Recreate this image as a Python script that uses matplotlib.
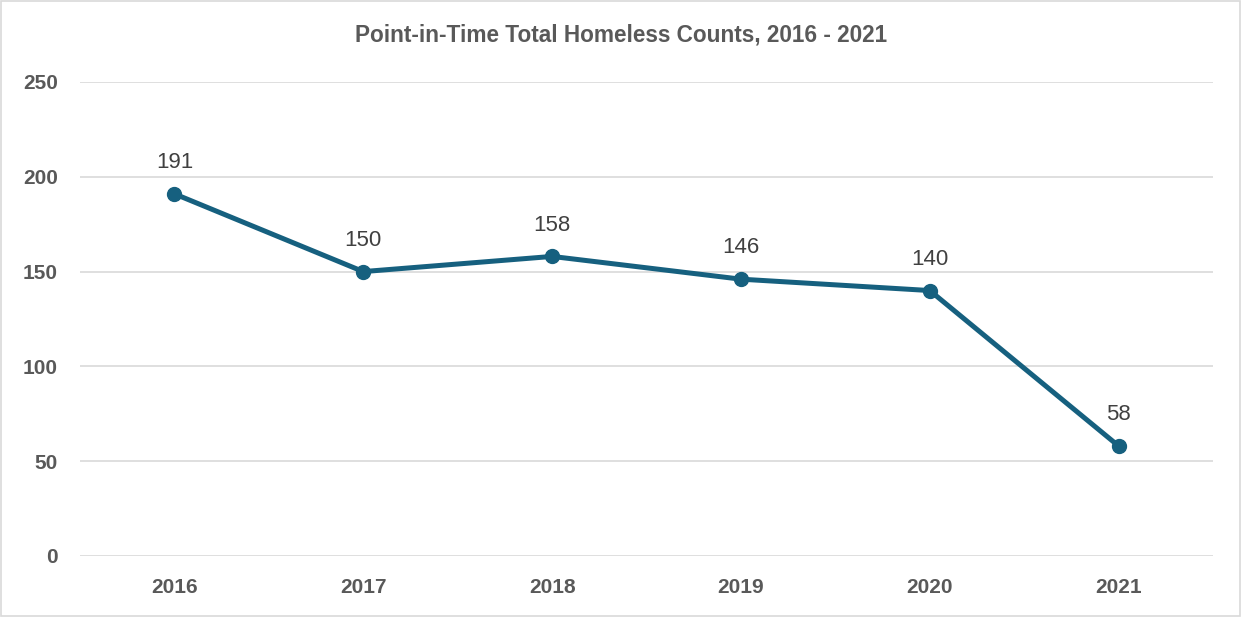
import matplotlib.pyplot as plt
from matplotlib.patches import Rectangle

# Daten
years = ['2016', '2017', '2018', '2019', '2020', '2021']
counts = [191, 150, 158, 146, 140, 58]
y_ticks = [0, 50, 100, 150, 200, 250]

line_color = '#16607f'
text_grey = '#595959'

plt.rcParams['font.family'] = ['Liberation Sans', 'DejaVu Sans']

fig = plt.figure(figsize=(12.42, 6.17), dpi=100)
ax = fig.add_axes([0.0644, 0.0989, 0.9123, 0.7682])

x = list(range(len(years)))
ax.plot(x, counts, '-o', color=line_color, linewidth=3.6, markersize=10, zorder=3)

# Datenbeschriftungen
for xi, v in zip(x, counts):
    ax.annotate(str(v), (xi, v), textcoords='offset points', xytext=(0, 15),
                ha='center', va='bottom', fontsize=16, color='#404040')

ax.set_xlim(-0.5, len(years) - 0.5)
ax.set_ylim(0, 250)
ax.set_xticks(x)
ax.set_xticklabels(years)
ax.set_yticks(y_ticks)

for lbl in ax.get_xticklabels() + ax.get_yticklabels():
    lbl.set_fontweight('bold')
    lbl.set_color(text_grey)
    lbl.set_fontsize(15)

ax.tick_params(axis='both', length=0)
ax.tick_params(axis='y', pad=16)
ax.tick_params(axis='x', pad=16)
ax.grid(True, axis='y', color='#d9d9d9', linewidth=1.2)
ax.set_axisbelow(True)
for s in ax.spines.values():
    s.set_visible(False)

fig.text(0.5, 0.943, 'Point-in-Time Total Homeless Counts, 2016 - 2021',
         ha='center', va='center', fontsize=16.3, fontweight='bold', color=text_grey)

# Rahmen
fig.patches.append(Rectangle((0.001, 0.002), 0.997, 0.996, transform=fig.transFigure,
                             fill=False, edgecolor='#d9d9d9', linewidth=1.2))

plt.savefig('out.png', dpi=100)
